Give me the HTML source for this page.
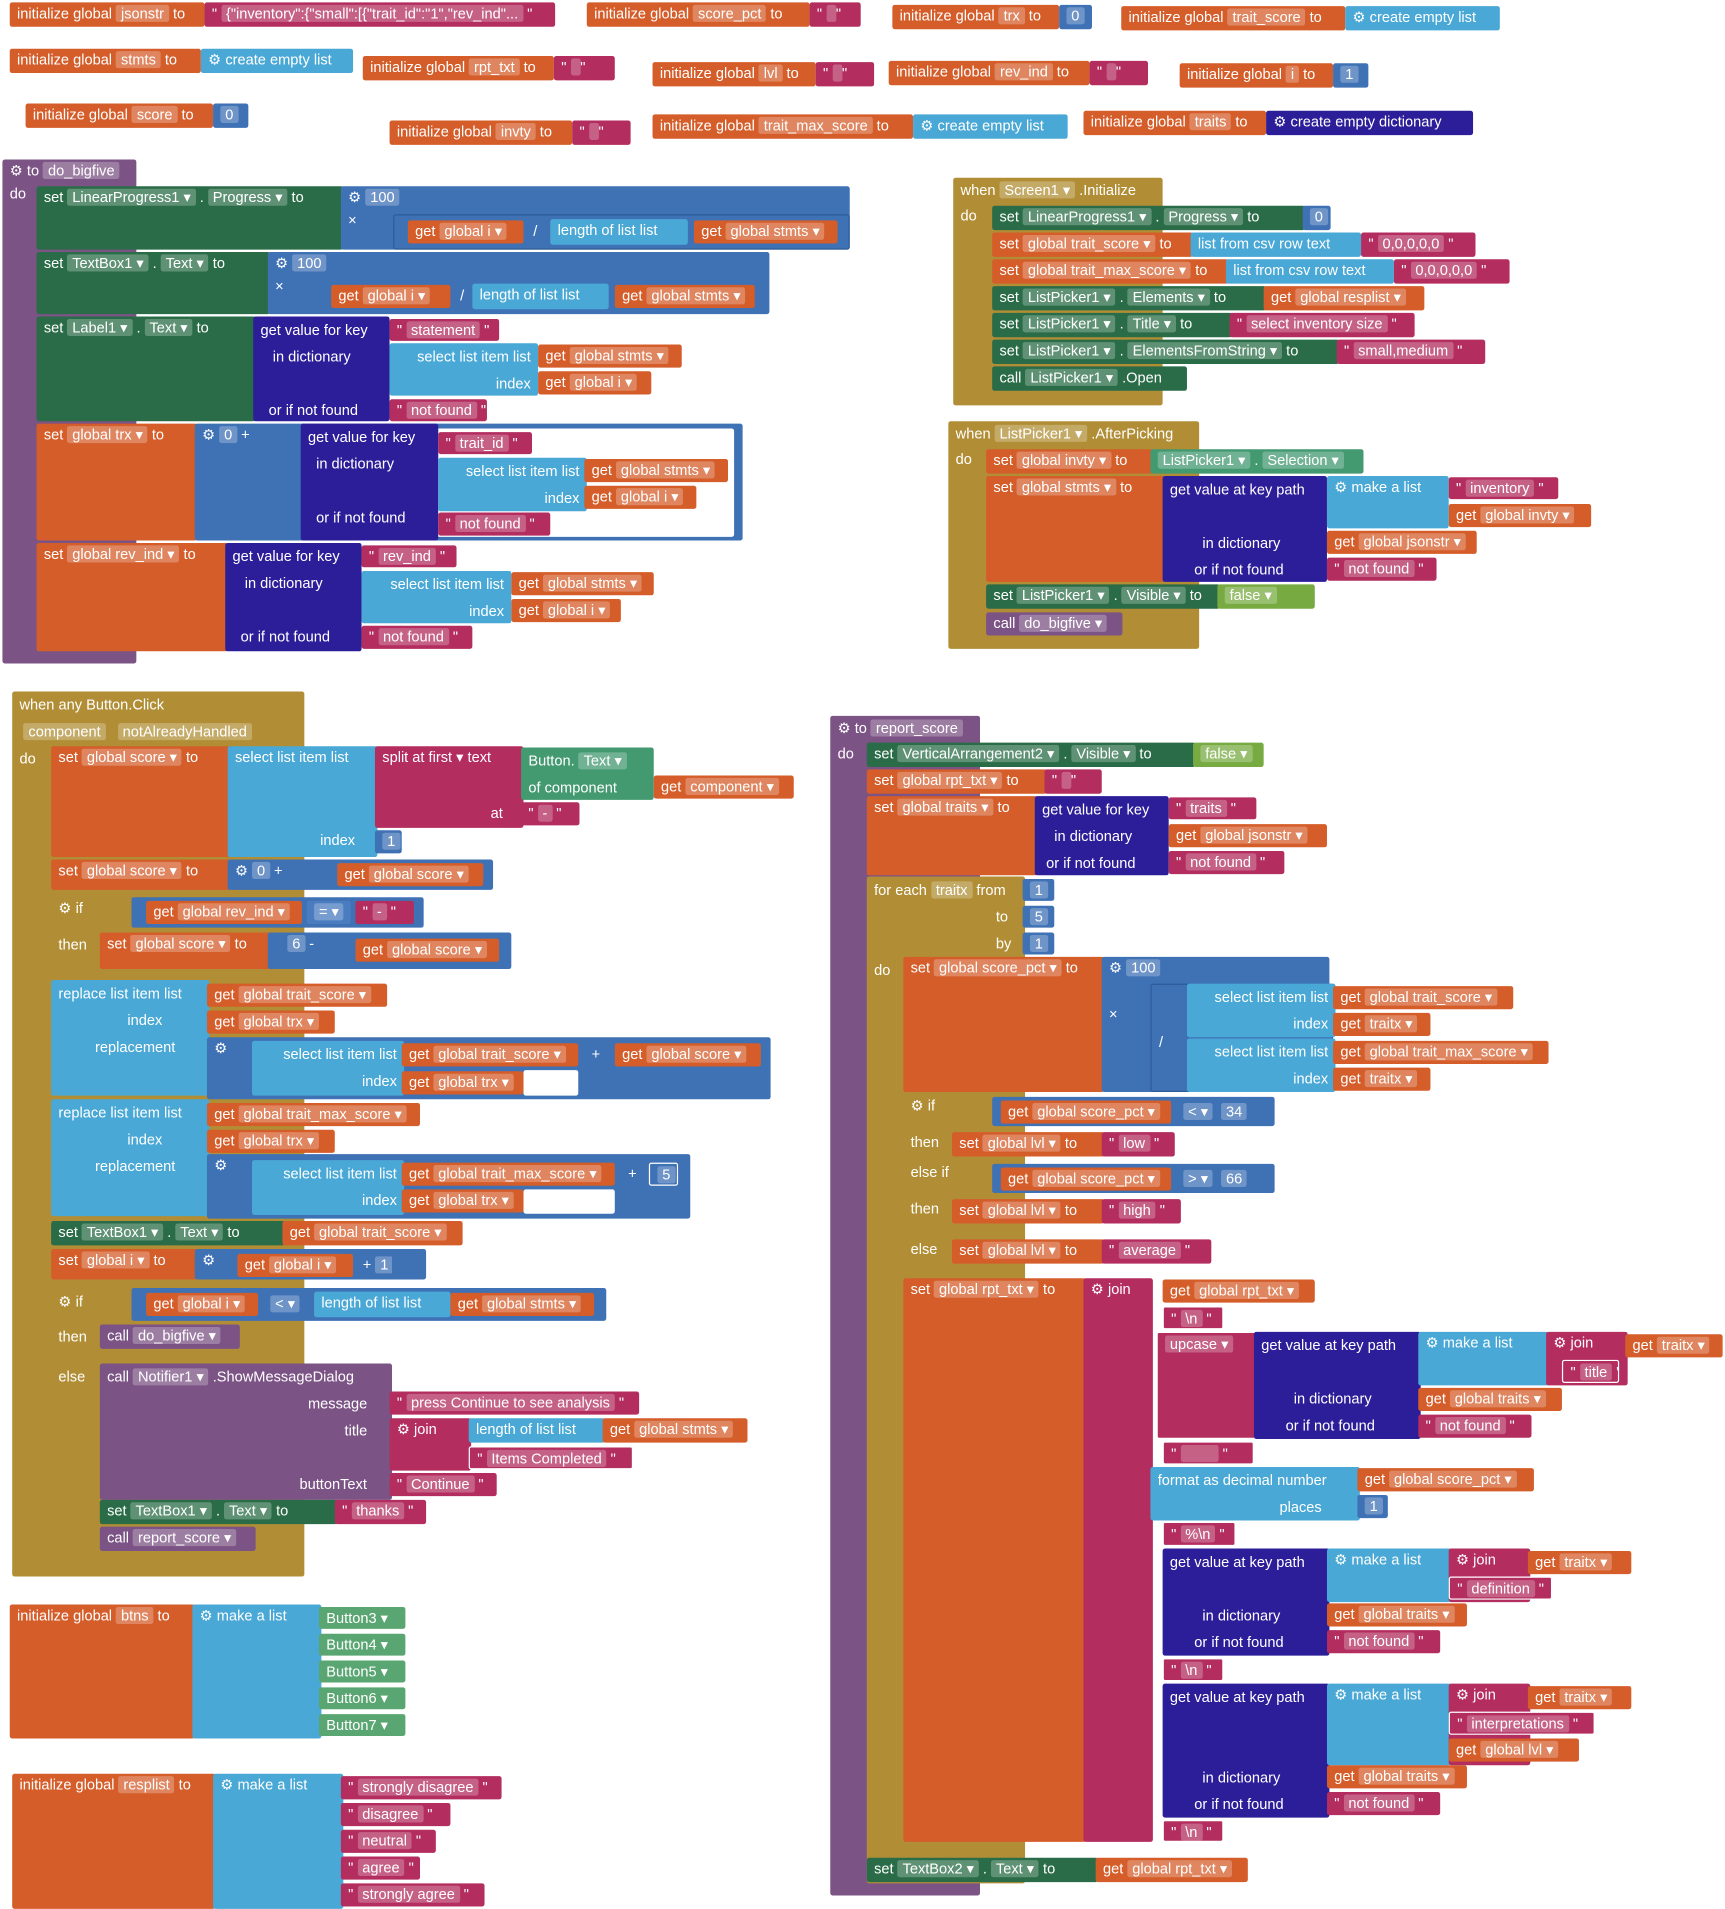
<!DOCTYPE html>
<html><head><meta charset="utf-8"><style>
html,body{margin:0;padding:0;background:#fff;width:1725px;height:1909px;overflow:hidden}
#s{position:absolute;left:0;top:0;width:1417px;height:1568px;transform:scale(1.2174);transform-origin:0 0}
.b{position:absolute;color:#fff;font:12px "Liberation Sans",sans-serif;line-height:19px;padding-left:6px;white-space:nowrap;box-sizing:border-box;border-radius:2px;overflow:hidden}
.o{background:#d45d2a}.p{background:#7c5385}.g{background:#b18e35}.l{background:#49a8d5}.t{background:#b32d5e}
.m{background:#3f71b5}.c{background:#2a6c47}.d{background:#2c1d99}.lg{background:#77ab41}.cn{background:#5aa672}
i{font-style:normal;background:rgba(255,255,255,.25);padding:0 4px;border-radius:2px}
.lb{position:absolute;left:6px}
</style></head><body><div id="s">
<!-- top globals -->
<div class="b o" style="left:8px;top:2px;width:160px;height:20px">initialize global <i>jsonstr</i> to</div>
<div class="b t" style="left:168px;top:2px;width:288px;height:20px">" <i>{"inventory":{"small":[{"trait_id":"1","rev_ind"...</i> "</div>
<div class="b o" style="left:482px;top:2px;width:183px;height:20px">initialize global <i>score_pct</i> to</div>
<div class="b t" style="left:665px;top:2px;width:42px;height:20px">" <i> </i> "</div>
<div class="b o" style="left:733px;top:4px;width:137px;height:20px">initialize global <i>trx</i> to</div>
<div class="b m" style="left:870px;top:4px;width:27px;height:20px"><i>0</i></div>
<div class="b o" style="left:921px;top:5px;width:184px;height:20px">initialize global <i>trait_score</i> to</div>
<div class="b l" style="left:1105px;top:5px;width:127px;height:20px">⚙ create empty list</div>
<div class="b o" style="left:8px;top:40px;width:157px;height:20px">initialize global <i>stmts</i> to</div>
<div class="b l" style="left:165px;top:40px;width:125px;height:20px">⚙ create empty list</div>
<div class="b o" style="left:298px;top:46px;width:157px;height:20px">initialize global <i>rpt_txt</i> to</div>
<div class="b t" style="left:455px;top:46px;width:50px;height:20px">" <i> </i> "</div>
<div class="b o" style="left:536px;top:51px;width:134px;height:20px">initialize global <i>lvl</i> to</div>
<div class="b t" style="left:670px;top:51px;width:48px;height:20px">" <i> </i> "</div>
<div class="b o" style="left:730px;top:50px;width:165px;height:20px">initialize global <i>rev_ind</i> to</div>
<div class="b t" style="left:895px;top:50px;width:48px;height:20px">" <i> </i> "</div>
<div class="b o" style="left:969px;top:52px;width:126px;height:20px">initialize global <i>i</i> to</div>
<div class="b m" style="left:1095px;top:52px;width:29px;height:20px"><i>1</i></div>
<div class="b o" style="left:21px;top:85px;width:154px;height:20px">initialize global <i>score</i> to</div>
<div class="b m" style="left:175px;top:85px;width:29px;height:20px"><i>0</i></div>
<div class="b o" style="left:320px;top:99px;width:150px;height:20px">initialize global <i>invty</i> to</div>
<div class="b t" style="left:470px;top:99px;width:48px;height:20px">" <i> </i> "</div>
<div class="b o" style="left:536px;top:94px;width:214px;height:20px">initialize global <i>trait_max_score</i> to</div>
<div class="b l" style="left:750px;top:94px;width:127px;height:20px">⚙ create empty list</div>
<div class="b o" style="left:890px;top:91px;width:150px;height:20px">initialize global <i>traits</i> to</div>
<div class="b d" style="left:1040px;top:91px;width:170px;height:20px">⚙ create empty dictionary</div>

<!-- do_bigfive -->
<div class="b p" style="left:2px;top:131px;width:110px;height:414px">⚙ to <i>do_bigfive</i><br>do</div>
<div class="b c" style="left:30px;top:153px;width:252px;height:52px">set <i>LinearProgress1 ▾</i> . <i>Progress ▾</i> to</div>
<div class="b m" style="left:280px;top:153px;width:418px;height:52px">⚙ <i>100</i><br>×</div>
<div class="b m" style="left:323px;top:176px;width:375px;height:29px;border:1px solid #2f5c99"></div>
<div class="b o" style="left:335px;top:181px;width:95px;height:19px">get <i>global i ▾</i></div>
<div class="b" style="left:432px;top:181px;width:20px;height:19px">/</div>
<div class="b l" style="left:452px;top:180px;width:113px;height:21px">length of list  list</div>
<div class="b o" style="left:570px;top:181px;width:118px;height:19px">get <i>global stmts ▾</i></div>
<div class="b c" style="left:30px;top:207px;width:192px;height:51px">set <i>TextBox1 ▾</i> . <i>Text ▾</i> to</div>
<div class="b m" style="left:220px;top:207px;width:412px;height:51px">⚙ <i>100</i><br>×</div>
<div class="b o" style="left:272px;top:234px;width:98px;height:19px">get <i>global i ▾</i></div>
<div class="b" style="left:372px;top:234px;width:16px;height:19px">/</div>
<div class="b l" style="left:388px;top:233px;width:112px;height:21px">length of list  list</div>
<div class="b o" style="left:505px;top:234px;width:115px;height:19px">get <i>global stmts ▾</i></div>
<div class="b c" style="left:30px;top:260px;width:180px;height:86px">set <i>Label1 ▾</i> . <i>Text ▾</i> to</div>
<div class="b d" style="left:208px;top:260px;width:112px;height:86px;line-height:22px">get value for key<br>&nbsp;&nbsp;&nbsp;in dictionary<br><br>&nbsp;&nbsp;or if not found</div>
<div class="b t" style="left:320px;top:262px;width:90px;height:18px">" <i>statement</i> "</div>
<div class="b l" style="left:320px;top:282px;width:122px;height:43px;text-align:right;padding-right:6px;line-height:22px">select list item  list<br>index</div>
<div class="b o" style="left:442px;top:283px;width:118px;height:19px">get <i>global stmts ▾</i></div>
<div class="b o" style="left:442px;top:305px;width:93px;height:19px">get <i>global i ▾</i></div>
<div class="b t" style="left:320px;top:328px;width:80px;height:18px">" <i>not found</i> "</div>
<div class="b o" style="left:30px;top:348px;width:132px;height:96px">set <i>global trx ▾</i> to</div>
<div class="b m" style="left:160px;top:348px;width:450px;height:96px">⚙ <i>0</i> +</div>
<div class="b" style="left:357px;top:352px;width:246px;height:89px;background:#fff"></div>
<div class="b d" style="left:247px;top:348px;width:113px;height:96px;line-height:22px">get value for key<br>&nbsp;&nbsp;in dictionary<br><br>&nbsp;&nbsp;or if not found</div>
<div class="b t" style="left:360px;top:355px;width:77px;height:18px">" <i>trait_id</i> "</div>
<div class="b l" style="left:360px;top:376px;width:122px;height:44px;text-align:right;padding-right:6px;line-height:22px">select list item  list<br>index</div>
<div class="b o" style="left:480px;top:377px;width:118px;height:19px">get <i>global stmts ▾</i></div>
<div class="b o" style="left:480px;top:399px;width:92px;height:19px">get <i>global i ▾</i></div>
<div class="b t" style="left:360px;top:421px;width:92px;height:19px">" <i>not found</i> "</div>
<div class="b o" style="left:30px;top:446px;width:157px;height:89px">set <i>global rev_ind ▾</i> to</div>
<div class="b d" style="left:185px;top:446px;width:112px;height:89px;line-height:22px">get value for key<br>&nbsp;&nbsp;&nbsp;in dictionary<br><br>&nbsp;&nbsp;or if not found</div>
<div class="b t" style="left:297px;top:448px;width:78px;height:18px">" <i>rev_ind</i> "</div>
<div class="b l" style="left:297px;top:469px;width:123px;height:43px;text-align:right;padding-right:6px;line-height:22px">select list item  list<br>index</div>
<div class="b o" style="left:420px;top:470px;width:117px;height:19px">get <i>global stmts ▾</i></div>
<div class="b o" style="left:420px;top:492px;width:90px;height:19px">get <i>global i ▾</i></div>
<div class="b t" style="left:297px;top:514px;width:91px;height:19px">" <i>not found</i> "</div>

<!-- Screen1.Initialize -->
<div class="b g" style="left:783px;top:146px;width:172px;height:187px;line-height:21px">when <i>Screen1 ▾</i> .Initialize<br>do</div>
<div class="b c" style="left:815px;top:169px;width:257px;height:20px">set <i>LinearProgress1 ▾</i> . <i>Progress ▾</i> to</div>
<div class="b m" style="left:1070px;top:169px;width:23px;height:20px"><i>0</i></div>
<div class="b o" style="left:815px;top:191px;width:165px;height:20px">set <i>global trait_score ▾</i> to</div>
<div class="b l" style="left:978px;top:191px;width:140px;height:20px">list from csv row  text</div>
<div class="b t" style="left:1118px;top:191px;width:94px;height:20px">" <i>0,0,0,0,0</i> "</div>
<div class="b o" style="left:815px;top:213px;width:194px;height:20px">set <i>global trait_max_score ▾</i> to</div>
<div class="b l" style="left:1007px;top:213px;width:138px;height:20px">list from csv row  text</div>
<div class="b t" style="left:1145px;top:213px;width:95px;height:20px">" <i>0,0,0,0,0</i> "</div>
<div class="b c" style="left:815px;top:235px;width:225px;height:20px">set <i>ListPicker1 ▾</i> . <i>Elements ▾</i> to</div>
<div class="b o" style="left:1038px;top:235px;width:132px;height:20px">get <i>global resplist ▾</i></div>
<div class="b c" style="left:815px;top:257px;width:197px;height:20px">set <i>ListPicker1 ▾</i> . <i>Title ▾</i> to</div>
<div class="b t" style="left:1010px;top:257px;width:152px;height:20px">" <i>select inventory size</i> "</div>
<div class="b c" style="left:815px;top:279px;width:285px;height:20px">set <i>ListPicker1 ▾</i> . <i>ElementsFromString ▾</i> to</div>
<div class="b t" style="left:1098px;top:279px;width:122px;height:20px">" <i>small,medium</i> "</div>
<div class="b c" style="left:815px;top:301px;width:160px;height:20px">call <i>ListPicker1 ▾</i> .Open</div>

<!-- AfterPicking -->
<div class="b g" style="left:779px;top:346px;width:206px;height:187px;line-height:21px">when <i>ListPicker1 ▾</i> .AfterPicking<br>do</div>
<div class="b o" style="left:810px;top:369px;width:137px;height:20px">set <i>global invty ▾</i> to</div>
<div class="b" style="left:945px;top:369px;width:175px;height:20px;background:#439970"><i>ListPicker1 ▾</i> . <i>Selection ▾</i></div>
<div class="b o" style="left:810px;top:391px;width:147px;height:87px">set <i>global stmts ▾</i> to</div>
<div class="b d" style="left:955px;top:391px;width:135px;height:87px;line-height:22px">get value at key path<br><br>&nbsp;&nbsp;&nbsp;&nbsp;&nbsp;&nbsp;&nbsp;&nbsp;in dictionary<br>&nbsp;&nbsp;&nbsp;&nbsp;&nbsp;&nbsp;or if not found</div>
<div class="b l" style="left:1090px;top:391px;width:100px;height:43px">⚙ make a list</div>
<div class="b t" style="left:1190px;top:392px;width:90px;height:18px">" <i>inventory</i> "</div>
<div class="b o" style="left:1190px;top:414px;width:117px;height:19px">get <i>global invty ▾</i></div>
<div class="b o" style="left:1090px;top:436px;width:123px;height:19px">get <i>global jsonstr ▾</i></div>
<div class="b t" style="left:1090px;top:458px;width:90px;height:19px">" <i>not found</i> "</div>
<div class="b c" style="left:810px;top:480px;width:192px;height:20px">set <i>ListPicker1 ▾</i> . <i>Visible ▾</i> to</div>
<div class="b lg" style="left:1000px;top:480px;width:80px;height:20px"><i>false ▾</i></div>
<div class="b p" style="left:810px;top:503px;width:112px;height:19px">call <i>do_bigfive ▾</i></div>

<!-- Button.Click -->
<div class="b g" style="left:10px;top:568px;width:240px;height:727px;line-height:22px">when any Button.Click<br>&nbsp;<i>component</i>&nbsp;&nbsp;&nbsp;<i>notAlreadyHandled</i><br>do</div>
<div class="b o" style="left:42px;top:613px;width:147px;height:91px">set <i>global score ▾</i> to</div>
<div class="b l" style="left:187px;top:613px;width:123px;height:91px">select list item  list<br><br><br><span style="position:absolute;left:76px;top:68px">index</span></div>
<div class="b t" style="left:308px;top:613px;width:122px;height:67px">split at first ▾  text<br><br><span style="position:absolute;left:95px;top:46px">at</span></div>
<div class="b" style="left:428px;top:614px;width:109px;height:43px;background:#439970;line-height:22px">Button. <i>Text ▾</i><br>of component</div>
<div class="b o" style="left:537px;top:637px;width:115px;height:19px">get <i>component ▾</i></div>
<div class="b t" style="left:428px;top:659px;width:48px;height:19px">" <i>-</i> "</div>
<div class="b m" style="left:308px;top:682px;width:22px;height:19px"><i>1</i></div>
<div class="b o" style="left:42px;top:706px;width:147px;height:25px">set <i>global score ▾</i> to</div>
<div class="b m" style="left:187px;top:706px;width:218px;height:25px">⚙ <i>0</i> +</div>
<div class="b o" style="left:277px;top:709px;width:120px;height:19px">get <i>global score ▾</i></div>
<div class="b g" style="left:42px;top:734px;width:66px;height:66px"><span class="lb" style="top:3px">⚙ if</span><span class="lb" style="top:33px">then</span></div>
<div class="b m" style="left:108px;top:737px;width:240px;height:25px"></div>
<div class="b o" style="left:120px;top:740px;width:128px;height:19px">get <i>global rev_ind ▾</i></div>
<div class="b" style="left:252px;top:740px;width:36px;height:19px;background:#4a7cc0"><i>= ▾</i></div>
<div class="b t" style="left:292px;top:740px;width:48px;height:19px">" <i>-</i> "</div>
<div class="b o" style="left:82px;top:766px;width:140px;height:30px">set <i>global score ▾</i> to</div>
<div class="b m" style="left:220px;top:766px;width:200px;height:30px">&nbsp;&nbsp;&nbsp;<i>6</i> -</div>
<div class="b o" style="left:292px;top:771px;width:118px;height:19px">get <i>global score ▾</i></div>
<div class="b l" style="left:42px;top:805px;width:130px;height:95px;line-height:22px">replace list item  list<br>&nbsp;&nbsp;&nbsp;&nbsp;&nbsp;&nbsp;&nbsp;&nbsp;&nbsp;&nbsp;&nbsp;&nbsp;&nbsp;&nbsp;&nbsp;&nbsp;&nbsp;index<br>&nbsp;&nbsp;&nbsp;&nbsp;&nbsp;&nbsp;&nbsp;&nbsp;&nbsp;replacement</div>
<div class="b o" style="left:170px;top:808px;width:148px;height:19px">get <i>global trait_score ▾</i></div>
<div class="b o" style="left:170px;top:830px;width:105px;height:19px">get <i>global trx ▾</i></div>
<div class="b m" style="left:170px;top:852px;width:463px;height:51px">⚙</div>
<div class="b l" style="left:207px;top:855px;width:125px;height:45px;text-align:right;padding-right:6px;line-height:22px">select list item  list<br>index</div>
<div class="b" style="left:430px;top:879px;width:45px;height:21px;background:#fff"></div>
<div class="b o" style="left:330px;top:857px;width:145px;height:19px">get <i>global trait_score ▾</i></div>
<div class="b o" style="left:330px;top:880px;width:100px;height:19px">get <i>global trx ▾</i></div>
<div class="b" style="left:480px;top:857px;width:20px;height:19px">+</div>
<div class="b o" style="left:505px;top:857px;width:120px;height:19px">get <i>global score ▾</i></div>
<div class="b l" style="left:42px;top:903px;width:130px;height:96px;line-height:22px">replace list item  list<br>&nbsp;&nbsp;&nbsp;&nbsp;&nbsp;&nbsp;&nbsp;&nbsp;&nbsp;&nbsp;&nbsp;&nbsp;&nbsp;&nbsp;&nbsp;&nbsp;&nbsp;index<br>&nbsp;&nbsp;&nbsp;&nbsp;&nbsp;&nbsp;&nbsp;&nbsp;&nbsp;replacement</div>
<div class="b o" style="left:170px;top:906px;width:175px;height:19px">get <i>global trait_max_score ▾</i></div>
<div class="b o" style="left:170px;top:928px;width:105px;height:19px">get <i>global trx ▾</i></div>
<div class="b m" style="left:170px;top:948px;width:397px;height:53px">⚙</div>
<div class="b l" style="left:207px;top:953px;width:125px;height:45px;text-align:right;padding-right:6px;line-height:22px">select list item  list<br>index</div>
<div class="b" style="left:430px;top:977px;width:75px;height:20px;background:#fff"></div>
<div class="b o" style="left:330px;top:955px;width:175px;height:19px">get <i>global trait_max_score ▾</i></div>
<div class="b o" style="left:330px;top:977px;width:100px;height:19px">get <i>global trx ▾</i></div>
<div class="b" style="left:510px;top:955px;width:20px;height:19px">+</div>
<div class="b m" style="left:533px;top:955px;width:24px;height:19px;border:1px solid #fff"><i>5</i></div>
<div class="b c" style="left:42px;top:1003px;width:192px;height:20px">set <i>TextBox1 ▾</i> . <i>Text ▾</i> to</div>
<div class="b o" style="left:232px;top:1003px;width:148px;height:20px">get <i>global trait_score ▾</i></div>
<div class="b o" style="left:42px;top:1026px;width:120px;height:25px">set <i>global i ▾</i> to</div>
<div class="b m" style="left:160px;top:1026px;width:190px;height:25px">⚙</div>
<div class="b o" style="left:195px;top:1030px;width:95px;height:19px">get <i>global i ▾</i></div>
<div class="b" style="left:292px;top:1030px;width:30px;height:19px">+ <i>1</i></div>
<div class="b g" style="left:42px;top:1056px;width:42px;height:229px"><span class="lb" style="top:4px">⚙ if</span><span class="lb" style="top:33px">then</span><span class="lb" style="top:66px">else</span></div>
<div class="b m" style="left:108px;top:1058px;width:390px;height:27px"></div>
<div class="b o" style="left:120px;top:1062px;width:92px;height:19px">get <i>global i ▾</i></div>
<div class="b" style="left:216px;top:1062px;width:36px;height:19px"><i>&lt; ▾</i></div>
<div class="b l" style="left:258px;top:1061px;width:112px;height:21px">length of list  list</div>
<div class="b o" style="left:370px;top:1062px;width:118px;height:19px">get <i>global stmts ▾</i></div>
<div class="b p" style="left:82px;top:1088px;width:115px;height:20px">call <i>do_bigfive ▾</i></div>
<div class="b p" style="left:82px;top:1120px;width:240px;height:112px;line-height:22px">call <i>Notifier1 ▾</i> .ShowMessageDialog<br><span style="padding-left:165px">message</span><br><span style="padding-left:195px">title</span><br><br><span style="padding-left:158px">buttonText</span></div>
<div class="b t" style="left:320px;top:1143px;width:205px;height:19px">" <i>press Continue to see analysis</i> "</div>
<div class="b t" style="left:320px;top:1165px;width:67px;height:43px">⚙ join</div>
<div class="b l" style="left:385px;top:1165px;width:112px;height:20px">length of list  list</div>
<div class="b o" style="left:495px;top:1165px;width:119px;height:20px">get <i>global stmts ▾</i></div>
<div class="b t" style="left:385px;top:1188px;width:135px;height:19px;border:1px solid #fff">" <i>Items Completed</i> "</div>
<div class="b t" style="left:320px;top:1210px;width:88px;height:19px">" <i>Continue</i> "</div>
<div class="b c" style="left:82px;top:1232px;width:195px;height:20px">set <i>TextBox1 ▾</i> . <i>Text ▾</i> to</div>
<div class="b t" style="left:275px;top:1232px;width:75px;height:20px">" <i>thanks</i> "</div>
<div class="b p" style="left:82px;top:1254px;width:128px;height:20px">call <i>report_score ▾</i></div>

<!-- btns -->
<div class="b o" style="left:8px;top:1318px;width:152px;height:110px">initialize global <i>btns</i> to</div>
<div class="b l" style="left:158px;top:1318px;width:106px;height:110px">⚙ make a list</div>
<div class="b cn" style="left:262px;top:1320px;width:71px;height:18px;line-height:18px">Button3 ▾</div>
<div class="b cn" style="left:262px;top:1342px;width:71px;height:18px;line-height:18px">Button4 ▾</div>
<div class="b cn" style="left:262px;top:1364px;width:71px;height:18px;line-height:18px">Button5 ▾</div>
<div class="b cn" style="left:262px;top:1386px;width:71px;height:18px;line-height:18px">Button6 ▾</div>
<div class="b cn" style="left:262px;top:1408px;width:71px;height:18px;line-height:18px">Button7 ▾</div>

<!-- resplist -->
<div class="b o" style="left:10px;top:1457px;width:167px;height:111px">initialize global <i>resplist</i> to</div>
<div class="b l" style="left:175px;top:1457px;width:107px;height:111px">⚙ make a list</div>
<div class="b t" style="left:280px;top:1459px;width:132px;height:19px">" <i>strongly disagree</i> "</div>
<div class="b t" style="left:280px;top:1481px;width:90px;height:19px">" <i>disagree</i> "</div>
<div class="b t" style="left:280px;top:1503px;width:78px;height:19px">" <i>neutral</i> "</div>
<div class="b t" style="left:280px;top:1525px;width:65px;height:19px">" <i>agree</i> "</div>
<div class="b t" style="left:280px;top:1547px;width:118px;height:19px">" <i>strongly agree</i> "</div>

<!-- report_score -->
<div class="b p" style="left:682px;top:588px;width:123px;height:969px;line-height:21px">⚙ to <i>report_score</i><br>do</div>
<div class="b c" style="left:712px;top:610px;width:270px;height:20px">set <i>VerticalArrangement2 ▾</i> . <i>Visible ▾</i> to</div>
<div class="b lg" style="left:980px;top:610px;width:58px;height:20px"><i>false ▾</i></div>
<div class="b o" style="left:712px;top:632px;width:148px;height:20px">set <i>global rpt_txt ▾</i> to</div>
<div class="b t" style="left:858px;top:632px;width:47px;height:20px">" <i> </i> "</div>
<div class="b o" style="left:712px;top:654px;width:140px;height:65px">set <i>global traits ▾</i> to</div>
<div class="b d" style="left:850px;top:654px;width:110px;height:65px;line-height:22px">get value for key<br>&nbsp;&nbsp;&nbsp;in dictionary<br>&nbsp;or if not found</div>
<div class="b t" style="left:960px;top:655px;width:72px;height:18px">" <i>traits</i> "</div>
<div class="b o" style="left:960px;top:677px;width:130px;height:19px">get <i>global jsonstr ▾</i></div>
<div class="b t" style="left:960px;top:699px;width:95px;height:19px">" <i>not found</i> "</div>
<div class="b g" style="left:712px;top:720px;width:130px;height:827px;line-height:22px">for each <i>traitx</i> from<br><span style="padding-left:100px">to</span><br><span style="padding-left:100px">by</span><br>do</div>
<div class="b m" style="left:840px;top:722px;width:26px;height:18px;line-height:18px"><i>1</i></div>
<div class="b m" style="left:840px;top:744px;width:26px;height:18px;line-height:18px"><i>5</i></div>
<div class="b m" style="left:840px;top:766px;width:26px;height:18px;line-height:18px"><i>1</i></div>
<div class="b o" style="left:742px;top:786px;width:165px;height:111px">set <i>global score_pct ▾</i> to</div>
<div class="b m" style="left:905px;top:786px;width:187px;height:111px">⚙ <i>100</i><br><br>×</div>
<div class="b m" style="left:945px;top:808px;width:150px;height:89px;border:1px solid #2f5c99"><br><br>/</div>
<div class="b l" style="left:975px;top:808px;width:122px;height:44px;text-align:right;padding-right:6px;line-height:22px">select list item  list<br>index</div>
<div class="b l" style="left:975px;top:853px;width:122px;height:44px;text-align:right;padding-right:6px;line-height:22px">select list item  list<br>index</div>
<div class="b o" style="left:1095px;top:810px;width:148px;height:19px">get <i>global trait_score ▾</i></div>
<div class="b o" style="left:1095px;top:832px;width:80px;height:19px">get <i>traitx ▾</i></div>
<div class="b o" style="left:1095px;top:855px;width:177px;height:19px">get <i>global trait_max_score ▾</i></div>
<div class="b o" style="left:1095px;top:877px;width:80px;height:19px">get <i>traitx ▾</i></div>
<div class="b g" style="left:742px;top:898px;width:42px;height:148px"><span class="lb" style="top:1px">⚙ if</span><span class="lb" style="top:31px">then</span><span class="lb" style="top:56px">else if</span><span class="lb" style="top:86px">then</span><span class="lb" style="top:119px">else</span></div>
<div class="b m" style="left:815px;top:901px;width:232px;height:24px"></div>
<div class="b o" style="left:822px;top:904px;width:140px;height:19px">get <i>global score_pct ▾</i></div>
<div class="b" style="left:966px;top:904px;width:75px;height:19px"><i>&lt; ▾</i> &nbsp;<i>34</i></div>
<div class="b o" style="left:782px;top:930px;width:125px;height:20px">set <i>global lvl ▾</i> to</div>
<div class="b t" style="left:905px;top:930px;width:60px;height:20px">" <i>low</i> "</div>
<div class="b m" style="left:815px;top:956px;width:232px;height:24px"></div>
<div class="b o" style="left:822px;top:959px;width:140px;height:19px">get <i>global score_pct ▾</i></div>
<div class="b" style="left:966px;top:959px;width:75px;height:19px"><i>&gt; ▾</i> &nbsp;<i>66</i></div>
<div class="b o" style="left:782px;top:985px;width:125px;height:20px">set <i>global lvl ▾</i> to</div>
<div class="b t" style="left:905px;top:985px;width:65px;height:20px">" <i>high</i> "</div>
<div class="b o" style="left:782px;top:1018px;width:125px;height:20px">set <i>global lvl ▾</i> to</div>
<div class="b t" style="left:905px;top:1018px;width:90px;height:20px">" <i>average</i> "</div>
<div class="b o" style="left:742px;top:1050px;width:150px;height:463px">set <i>global rpt_txt ▾</i> to</div>
<div class="b t" style="left:890px;top:1050px;width:57px;height:463px">⚙ join</div>
<div class="b o" style="left:955px;top:1051px;width:125px;height:19px">get <i>global rpt_txt ▾</i></div>
<div class="b t" style="left:955px;top:1073px;width:50px;height:19px;border:1px solid #fff">" <i>\n</i> "</div>
<div class="b t" style="left:950px;top:1094px;width:82px;height:88px;border:1px solid #fff"><i>upcase ▾</i></div>
<div class="b d" style="left:1030px;top:1094px;width:137px;height:88px;line-height:22px">get value at key path<br><br>&nbsp;&nbsp;&nbsp;&nbsp;&nbsp;&nbsp;&nbsp;&nbsp;in dictionary<br>&nbsp;&nbsp;&nbsp;&nbsp;&nbsp;&nbsp;or if not found</div>
<div class="b l" style="left:1165px;top:1094px;width:107px;height:44px">⚙ make a list</div>
<div class="b t" style="left:1270px;top:1094px;width:67px;height:44px">⚙ join</div>
<div class="b o" style="left:1335px;top:1096px;width:80px;height:19px">get <i>traitx ▾</i></div>
<div class="b t" style="left:1283px;top:1117px;width:47px;height:19px;border:1px solid #fff">" <i>title</i> "</div>
<div class="b o" style="left:1165px;top:1140px;width:118px;height:19px">get <i>global traits ▾</i></div>
<div class="b t" style="left:1165px;top:1162px;width:93px;height:19px">" <i>not found</i> "</div>
<div class="b t" style="left:955px;top:1184px;width:75px;height:19px;border:1px solid #fff">" <i>&nbsp;&nbsp;&nbsp;&nbsp;&nbsp;&nbsp;&nbsp;</i> "</div>
<div class="b l" style="left:945px;top:1205px;width:172px;height:44px;line-height:22px">format as decimal number<br><span style="padding-left:100px">places</span></div>
<div class="b o" style="left:1115px;top:1206px;width:145px;height:19px">get <i>global score_pct ▾</i></div>
<div class="b m" style="left:1115px;top:1228px;width:25px;height:19px"><i>1</i></div>
<div class="b t" style="left:955px;top:1250px;width:60px;height:20px;border:1px solid #fff">" <i>%\n</i> "</div>
<div class="b d" style="left:955px;top:1272px;width:137px;height:88px;line-height:22px">get value at key path<br><br>&nbsp;&nbsp;&nbsp;&nbsp;&nbsp;&nbsp;&nbsp;&nbsp;in dictionary<br>&nbsp;&nbsp;&nbsp;&nbsp;&nbsp;&nbsp;or if not found</div>
<div class="b l" style="left:1090px;top:1272px;width:102px;height:44px">⚙ make a list</div>
<div class="b t" style="left:1190px;top:1272px;width:67px;height:44px">⚙ join</div>
<div class="b o" style="left:1255px;top:1274px;width:85px;height:19px">get <i>traitx ▾</i></div>
<div class="b t" style="left:1190px;top:1295px;width:85px;height:19px;border:1px solid #fff">" <i>definition</i> "</div>
<div class="b o" style="left:1090px;top:1317px;width:115px;height:19px">get <i>global traits ▾</i></div>
<div class="b t" style="left:1090px;top:1339px;width:93px;height:19px">" <i>not found</i> "</div>
<div class="b t" style="left:955px;top:1362px;width:50px;height:19px;border:1px solid #fff">" <i>\n</i> "</div>
<div class="b d" style="left:955px;top:1383px;width:137px;height:110px;line-height:22px">get value at key path<br><br><br>&nbsp;&nbsp;&nbsp;&nbsp;&nbsp;&nbsp;&nbsp;&nbsp;in dictionary<br>&nbsp;&nbsp;&nbsp;&nbsp;&nbsp;&nbsp;or if not found</div>
<div class="b l" style="left:1090px;top:1383px;width:102px;height:67px">⚙ make a list</div>
<div class="b t" style="left:1190px;top:1383px;width:67px;height:67px">⚙ join</div>
<div class="b o" style="left:1255px;top:1385px;width:85px;height:19px">get <i>traitx ▾</i></div>
<div class="b t" style="left:1190px;top:1406px;width:120px;height:19px;border:1px solid #fff">" <i>interpretations</i> "</div>
<div class="b o" style="left:1190px;top:1428px;width:107px;height:19px">get <i>global lvl ▾</i></div>
<div class="b o" style="left:1090px;top:1450px;width:115px;height:19px">get <i>global traits ▾</i></div>
<div class="b t" style="left:1090px;top:1472px;width:93px;height:19px">" <i>not found</i> "</div>
<div class="b t" style="left:955px;top:1495px;width:50px;height:18px;border:1px solid #fff">" <i>\n</i> "</div>
<div class="b c" style="left:712px;top:1526px;width:190px;height:20px">set <i>TextBox2 ▾</i> . <i>Text ▾</i> to</div>
<div class="b o" style="left:900px;top:1526px;width:125px;height:20px">get <i>global rpt_txt ▾</i></div>
</div></body></html>
